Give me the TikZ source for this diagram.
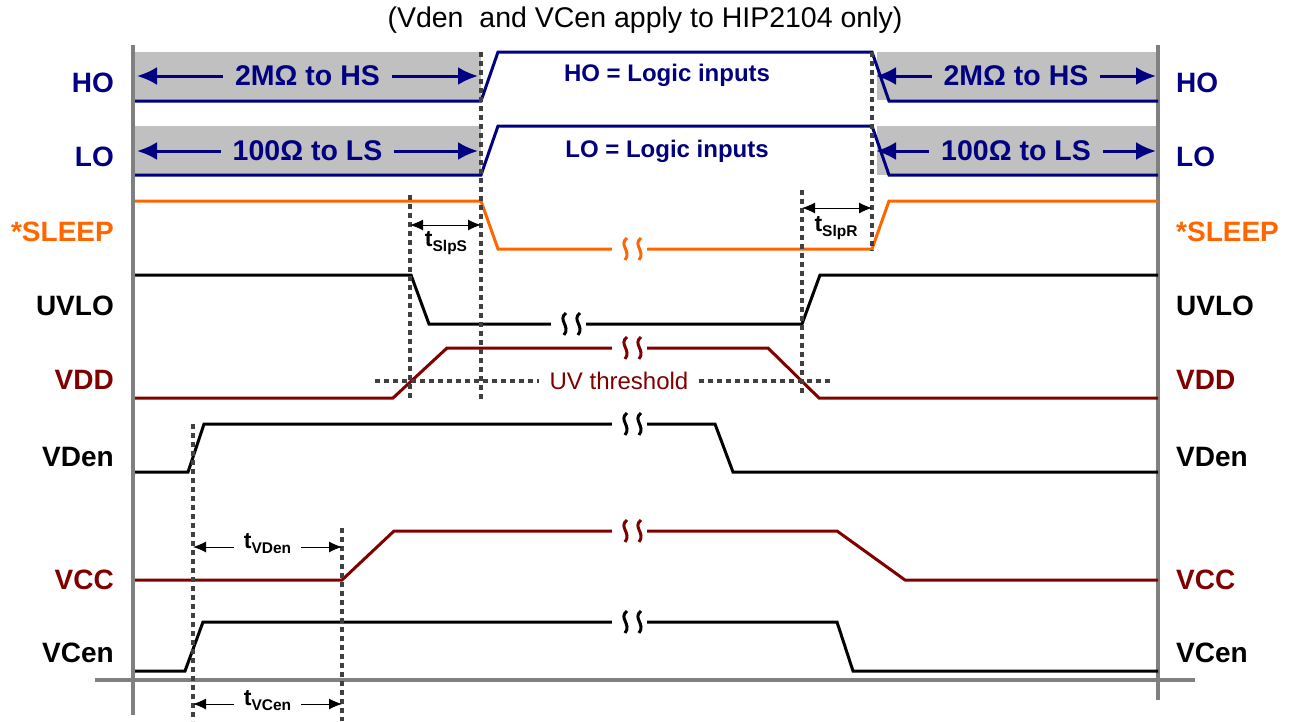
\documentclass[tikz,border=0pt]{standalone}
\usepackage{fontspec}
\setmainfont{Liberation Sans}
\usetikzlibrary{arrows.meta,positioning,calc}
\definecolor{navyblue}{RGB}{0,0,128}
\definecolor{sleeporange}{RGB}{255,102,0}
\definecolor{supplyred}{RGB}{128,0,0}
\definecolor{boxgray}{RGB}{192,192,192}
\definecolor{axisgray}{RGB}{128,128,128}
\definecolor{markgray}{RGB}{64,64,64}
\tikzset{
  sigline/.style={line width=3pt},
  axisline/.style={draw=axisgray,line width=4pt},
  markline/.style={draw=markgray,line width=4pt,dash pattern=on 5pt off 4pt},
  zonebox/.style={fill=boxgray,draw=none},
  zonearrow/.style={{Latex[length=20pt,width=18pt]}-{Latex[length=20pt,width=18pt]},
    line width=3pt,draw=navyblue},
  zonetext/.style={fill=boxgray,inner xsep=12pt,text=navyblue,
    font=\fontsize{28.5}{30}\selectfont\bfseries},
  logictext/.style={text=navyblue,font=\fontsize{24}{26}\selectfont\bfseries},
  siglabel/.style={inner sep=0pt,font=\fontsize{28}{30}\selectfont\bfseries},
  timearrow/.style={{Latex[length=13pt,width=11pt]}-{Latex[length=13pt,width=11pt]},
    line width=1pt},
  timetext/.style={inner sep=0pt,font=\fontsize{23}{24}\selectfont\bfseries},
  brk/.pic={
    \fill[white] (-17,-15) rectangle (18,15);
    \draw[pic actions,line width=3pt] (-2,-11) .. controls (-11,-4) and (3,2) .. (-4,11);
    \draw[pic actions,line width=3pt] (12,-11) .. controls (3,-4) and (17,2) .. (10,11);
  },
}
\newcommand{\tdelay}[1]{t\raisebox{-5pt}{\fontsize{15.5}{16}\selectfont #1}}

\begin{document}
\begin{tikzpicture}[x=1pt,y=-1pt]
  \useasboundingbox (0,0) rectangle (1291,721);
  % title
  \node[font=\fontsize{28.5}{30}\selectfont] (title) at (645,20) {(Vden\ \ and VCen apply to HIP2104 only)};

  % high impedance zones
  \fill[zonebox] (135,52) rectangle (481,100);
  \fill[zonebox] (877,52) rectangle (1158,100);
  \fill[zonebox] (135,126) rectangle (481,175);
  \fill[zonebox] (877,126) rectangle (1158,175);

  % frame
  \draw[axisline] (133,45) -- (133,715);
  \draw[axisline] (1158,45) -- (1158,700);
  \draw[axisline] (95,680) -- (1195,680);

  % waveforms
  \draw[sigline,navyblue] (135,101) -- (481,101) -- (498,52) -- (872,52) -- (889,101) -- (1158,101);
  \draw[sigline,navyblue] (135,175) -- (481,175) -- (498,126) -- (872,126) -- (889,175) -- (1158,175);
  \draw[sigline,sleeporange] (135,201) -- (481,201) -- (498,249) -- (872,249) -- (889,201) -- (1158,201);
  \draw[sigline] (135,275) -- (411,275) -- (429,324) -- (802,324) -- (820,275) -- (1158,275);
  \draw[sigline,supplyred] (135,398) -- (393,398) -- (447,348) -- (768,348) -- (819,398) -- (1158,398);
  \draw[sigline] (135,472) -- (188,472) -- (204,424) -- (715,424) -- (733,472) -- (1158,472);
  \draw[sigline,supplyred] (135,580) -- (342,580) -- (394,531) -- (837,531) -- (905,580) -- (1158,580);
  \draw[sigline] (135,671) -- (185,671) -- (203,622) -- (837,622) -- (853,671) -- (1158,671);

  % breaks
  \pic[color=sleeporange] at (629,249) {brk};
  \pic[color=black] at (568,324) {brk};
  \pic[color=supplyred] at (629,348) {brk};
  \pic[color=black] at (629,424) {brk};
  \pic[color=supplyred] at (629,531) {brk};
  \pic[color=black] at (629,622) {brk};

  % zone labels
  \node[logictext] (hologic) at (667,75) {HO = Logic inputs};
  \node[logictext] (lologic) at (667,151) {LO = Logic inputs};
  \draw[zonearrow] (137,76) -- node[zonetext] (hozl) {2MΩ to HS} (478,76);
  \draw[zonearrow] (876,76) -- node[zonetext] (hozr) {2MΩ to HS} (1156,76);
  \draw[zonearrow] (137,151) -- node[zonetext] (lozl) {100Ω to LS} (478,151);
  \draw[zonearrow] (876,151) -- node[zonetext] (lozr) {100Ω to LS} (1156,151);

  % timing marks
  \coordinate (ssA) at (481,52);   \coordinate (ssB) at (481,400);
  \coordinate (srA) at (872,52);   \coordinate (srB) at (872,251);
  \coordinate (uvA) at (410,195);  \coordinate (uvB) at (410,400);
  \coordinate (urA) at (802,190);  \coordinate (urB) at (802,395);
  \coordinate (enA) at (193,424);  \coordinate (enB) at (193,721);
  \coordinate (ccA) at (342,528);  \coordinate (ccB) at (342,721);
  \foreach \a/\b in {ssA/ssB,srA/srB,uvA/uvB,urA/urB,enA/enB,ccA/ccB}
    \draw[markline] (\a) -- (\b);
  \node[text=supplyred,inner xsep=10pt,font=\fontsize{24}{26}\selectfont] (uvth) at (619,381) {UV threshold};
  \draw[markline] (375,381) -- (uvth.west);
  \draw[markline] (uvth.east) -- (830,381);

  % delays
  \draw[timearrow] (410,225) -- (481,225);
  \node[timetext] (tslps) at (446,243) {\tdelay{SlpS}};
  \draw[timearrow] (802,208) -- (872,208);
  \node[timetext] (tslpr) at (836,228) {\tdelay{SlpR}};
  \draw[timearrow] (193,547) -- node[timetext,fill=white,inner xsep=10pt,yshift=3pt] (tvden) {\tdelay{VDen}} (342,547);
  \draw[timearrow] (193,704) -- node[timetext,fill=white,inner xsep=10pt,yshift=3pt] (tvcen) {\tdelay{VCen}} (342,704);

  % signal names
  \foreach \y/\k/\n/\c in {83/ho/HO/navyblue,157/lo/LO/navyblue,232/slp/*SLEEP/sleeporange,
      306/uvlo/UVLO/black,380/vdd/VDD/supplyred,457/vden/VDen/black,580/vcc/VCC/supplyred,
      653/vcen/VCen/black}{
    \node[siglabel,text=\c,anchor=east] (l\k) at (114,\y) {\n};
    \node[siglabel,text=\c,anchor=west] (r\k) at (1176,\y) {\n};
  }
\end{tikzpicture}
\end{document}
